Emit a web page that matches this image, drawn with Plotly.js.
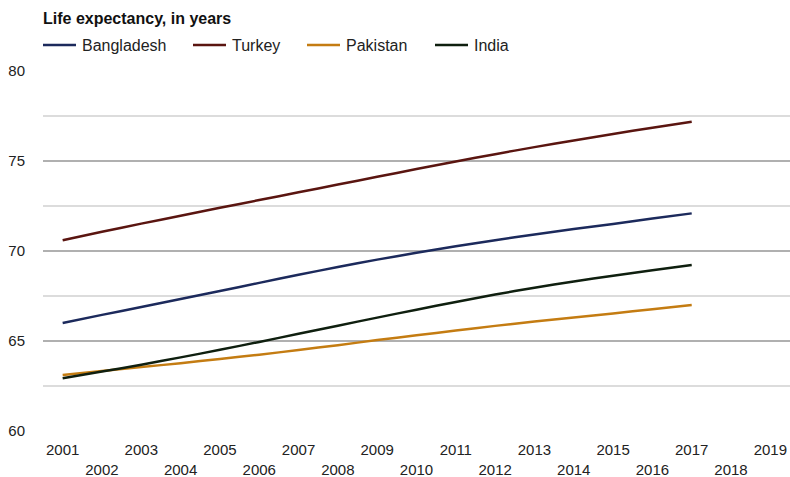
<!DOCTYPE html>
<html>
<head>
<meta charset="utf-8">
<script src="https://cdn.plot.ly/plotly-3.0.1.min.js"></script>
<style>
  html, body { margin: 0; padding: 0; background: #fff; }
  #chart { width: 790px; height: 477px; }
</style>
</head>
<body>
<div id="chart"></div>
<script>
// ---- data ----
const years = [2001, 2002, 2003, 2004, 2005, 2006, 2007, 2008, 2009, 2010, 2011, 2012, 2013, 2014, 2015, 2016, 2017];
const axisYears = [2001, 2002, 2003, 2004, 2005, 2006, 2007, 2008, 2009, 2010, 2011, 2012, 2013, 2014, 2015, 2016, 2017, 2018, 2019];
const bangladesh = [66.0, 66.45, 66.89, 67.33, 67.78, 68.23, 68.68, 69.11, 69.52, 69.9, 70.26, 70.6, 70.92, 71.22, 71.5, 71.8, 72.09];
const turkey = [70.6, 71.07, 71.52, 71.96, 72.4, 72.83, 73.26, 73.69, 74.12, 74.55, 74.97, 75.38, 75.77, 76.14, 76.5, 76.85, 77.18];
const pakistan = [63.11, 63.33, 63.55, 63.77, 64.0, 64.24, 64.5, 64.77, 65.05, 65.32, 65.58, 65.84, 66.08, 66.31, 66.53, 66.77, 67.0];
const india = [62.93, 63.3, 63.68, 64.09, 64.51, 64.95, 65.4, 65.85, 66.3, 66.74, 67.17, 67.58, 67.96, 68.31, 68.63, 68.93, 69.22];
const seriesNames = ["Bangladesh", "Turkey", "Pakistan", "India"];
const seriesValues = [bangladesh, turkey, pakistan, india];
const seriesColors = ["#1c2a5c", "#5a1510", "#c47c12", "#0f1f0f"];
const titleText = "Life expectancy, in years";
const yTicks = [60, 65, 70, 75, 80];

// alternate tick rows: odd years on first row, even years on second row
const tickText = axisYears.map(function (y) { return (y % 2 === 0) ? "<br>" + y : String(y); });

const FONT = "Liberation Sans, Arial, sans-serif";
const W = 790, H = 477;
const M = { l: 43, r: 0, t: 71, b: 46 };
const plotW = W - M.l - M.r, plotH = H - M.t - M.b;
// legend layout (pixel positions of each entry's line start)
const legendStarts = [43, 193, 307, 435];
const legendY = 45;
const px2x = function (px) { return (px - M.l) / plotW; };
const px2y = function (py) { return (H - M.b - py) / plotH; };

const traces = seriesNames.map(function (name, i) {
  return {
    type: "scatter",
    mode: "lines",
    name: name,
    x: years,
    y: seriesValues[i],
    line: { color: seriesColors[i], width: 2.5, shape: "spline", smoothing: 0.8 },
    hoverinfo: "x+y+name"
  };
});

const shapes = seriesNames.map(function (name, i) {
  return {
    type: "line", xref: "paper", yref: "paper",
    x0: px2x(legendStarts[i]), x1: px2x(legendStarts[i] + 33),
    y0: px2y(legendY), y1: px2y(legendY),
    line: { color: seriesColors[i], width: 2.5 }
  };
});

const annotations = seriesNames.map(function (name, i) {
  return {
    text: name, showarrow: false,
    xref: "paper", yref: "paper",
    x: px2x(legendStarts[i] + 37), y: px2y(legendY),
    xanchor: "left", yanchor: "middle",
    font: { family: FONT, size: 16, color: "#222222" }
  };
});

const layout = {
  width: W,
  height: H,
  paper_bgcolor: "#ffffff",
  plot_bgcolor: "#ffffff",
  margin: { l: M.l, r: M.r, t: M.t, b: M.b, pad: 0 },
  font: { family: FONT, color: "#222222", size: 15 },
  title: {
    text: "<b>" + titleText + "</b>",
    font: { family: FONT, size: 16, color: "#111111" },
    xref: "container",
    x: 43 / W,
    xanchor: "left",
    yref: "container",
    y: 1 - 18 / H,
    yanchor: "middle"
  },
  showlegend: false,
  shapes: shapes,
  annotations: annotations,
  xaxis: {
    range: [2000.5, 2019.5],
    tickmode: "array",
    tickvals: axisYears,
    ticktext: tickText,
    showgrid: false,
    zeroline: false,
    showline: false,
    ticks: "outside",
    ticklen: 5,
    tickcolor: "rgba(0,0,0,0)",
    tickfont: { family: FONT, size: 15, color: "#222222" },
    fixedrange: true
  },
  yaxis: {
    range: [60, 80],
    tickmode: "array",
    tickvals: yTicks,
    showgrid: true,
    gridcolor: "#b0b0b0",
    gridwidth: 1.5,
    zeroline: false,
    showline: false,
    ticks: "outside",
    ticklen: 14,
    tickcolor: "rgba(0,0,0,0)",
    tickfont: { family: FONT, size: 15, color: "#222222" },
    minor: { dtick: 2.5, tick0: 60, showgrid: true, gridcolor: "#dcdcdc", gridwidth: 1.2, ticks: "" },
    fixedrange: true
  }
};

Plotly.newPlot("chart", traces, layout, { displayModeBar: false, staticPlot: true });
</script>
</body>
</html>
